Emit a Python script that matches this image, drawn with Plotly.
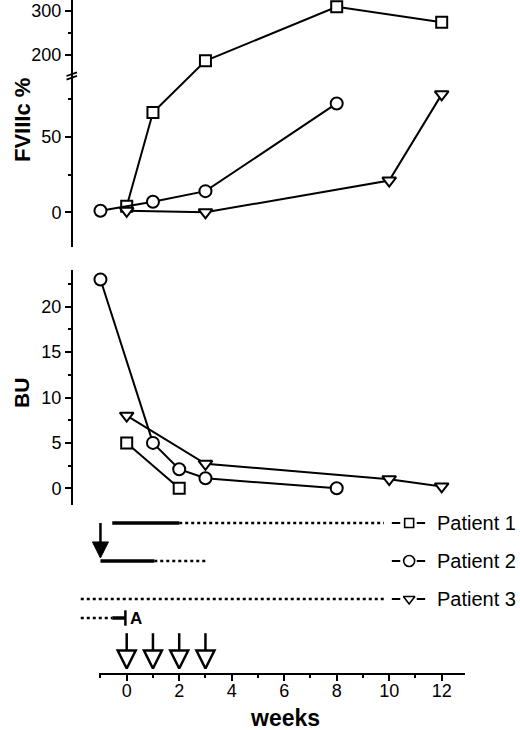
import plotly.graph_objects as go

# ---- FVIIIc % (upper panel) ----
p1_fv_weeks = [0, 1, 3, 8, 12]
p1_fv = [4, 66, 187, 309, 274]
p2_fv_weeks = [-1, 1, 3, 8]
p2_fv = [1, 7, 14, 72]
p3_fv_weeks = [0, 3, 10, 12]
p3_fv = [1, 0, 21, 78]

# ---- BU (inhibitor titre, lower panel) ----
p1_bu_weeks = [0, 2]
p1_bu = [5, 0]
p2_bu_weeks = [-1, 1, 2, 3, 8]
p2_bu = [23, 5, 2.1, 1.1, 0]
p3_bu_weeks = [0, 3, 10, 12]
p3_bu = [8, 2.7, 1, 0.2]

# ---- treatment timeline (weeks) ----
p1_solid = [-0.55, 2]
p1_dotted = [2, 9.8]
p2_solid = [-1, 1.05]
p2_dotted = [1.05, 3.05]
p3_dotted = [-1.75, 9.8]
a_dotted = [-1.75, -0.55]
a_solid = [-0.55, -0.05]
dose_weeks = [0, 1, 2, 3]

patients = ["Patient 1", "Patient 2", "Patient 3"]
x_ticks = [0, 2, 4, 6, 8, 10, 12]
x_minor = [-1, 1, 3, 5, 7, 9, 11]
fv_ticks = [0, 50, 200, 300]
fv_minor = [25, 75, 250]
bu_ticks = [0, 5, 10, 15, 20]
bu_minor = [2.5, 7.5, 12.5, 17.5, 22.5]

W, H = 520, 730
FONT = "Arial, Liberation Sans, sans-serif"


def py(p):
    # pixel row -> paper y
    return 1 - p / H


# week scale: week 0 at px 126.7, 26.25 px per week
X0, PPW = 126.7, 26.25


def xr(a, b):
    return [(a - X0) / PPW, (b - X0) / PPW]


# broken FVIIIc axis: above the break 100 % takes 44 px, below 50 % takes 76 px
BREAK = 90


def brk(v):
    return v if v <= BREAK else 104 + (v - 200) * 0.293


# timeline rows (38 px apart)
ROW = {"Patient 1": 4, "Patient 2": 3, "Patient 3": 2, "A": 1.5}

sym = {"Patient 1": "square", "Patient 2": "circle", "Patient 3": "triangle-down"}
msize = {"Patient 1": 11, "Patient 2": 12, "Patient 3": 12}
lsize = {"Patient 1": 9, "Patient 2": 11, "Patient 3": 10}

fig = go.Figure()


def data_trace(xs, ys, name, yaxis):
    fig.add_trace(go.Scatter(
        x=xs, y=ys, mode="lines+markers", xaxis="x", yaxis=yaxis,
        line=dict(color="black", width=2),
        marker=dict(symbol=sym[name], size=msize[name], color="white",
                    line=dict(color="black", width=2)),
        cliponaxis=False, showlegend=False, name=name))


data_trace(p1_fv_weeks, [brk(v) for v in p1_fv], "Patient 1", "y")
data_trace(p2_fv_weeks, [brk(v) for v in p2_fv], "Patient 2", "y")
data_trace(p3_fv_weeks, [brk(v) for v in p3_fv], "Patient 3", "y")

data_trace(p1_bu_weeks, p1_bu, "Patient 1", "y2")
data_trace(p2_bu_weeks, p2_bu, "Patient 2", "y2")
data_trace(p3_bu_weeks, p3_bu, "Patient 3", "y2")


def seg(xs, row, dotted, width=None):
    fig.add_trace(go.Scatter(
        x=xs, y=[row, row], mode="lines", xaxis="x2", yaxis="y3",
        line=dict(color="black", width=width or (2.5 if dotted else 3.5),
                  dash="dot" if dotted else "solid"),
        showlegend=False, hoverinfo="skip"))


seg(p1_solid, ROW["Patient 1"], False)
seg(p1_dotted, ROW["Patient 1"], True)
seg(p2_solid, ROW["Patient 2"], False)
seg(p2_dotted, ROW["Patient 2"], True)
seg(p3_dotted, ROW["Patient 3"], True)
seg(a_dotted, ROW["A"], True)
seg(a_solid, ROW["A"], False)

# end bar of the A line
fig.add_trace(go.Scatter(
    x=[a_solid[1]], y=[ROW["A"]], mode="markers", xaxis="x2", yaxis="y3",
    marker=dict(symbol="line-ns-open", size=11, color="black",
                line=dict(color="black", width=2.5)),
    showlegend=False, hoverinfo="skip"))


def arrow(x, y_top, y_tip, head, fill):
    # shaft down to the base of the head, then the head with its tip at y_tip
    head_rows = head / 38
    fig.add_trace(go.Scatter(
        x=[x, x], y=[y_top, y_tip + head_rows * 0.9], mode="lines",
        xaxis="x2", yaxis="y3", line=dict(color="black", width=2.5),
        showlegend=False, hoverinfo="skip"))
    fig.add_trace(go.Scatter(
        x=[x], y=[y_tip], mode="markers", xaxis="x2", yaxis="y3",
        marker=dict(symbol="arrow-down", size=head, color=fill,
                    line=dict(color="black", width=2.5 if fill == "white" else 1)),
        cliponaxis=False, showlegend=False, hoverinfo="skip"))


# filled arrow: start of patient 2 treatment
arrow(p2_solid[0], ROW["Patient 1"], ROW["Patient 2"] + 0.08, 16, "black")
# open arrows: doses
for w in dose_weeks:
    arrow(w, 1.1, 0.17, 18, "white")

# legend samples  -[]-
for name in patients:
    r = ROW[name]
    seg([10.1, 10.42], r, False, 2)
    seg([11.05, 11.37], r, False, 2)
    fig.add_trace(go.Scatter(
        x=[10.76], y=[r], mode="markers", xaxis="x2", yaxis="y3",
        marker=dict(symbol=sym[name], size=lsize[name], color="white",
                    line=dict(color="black", width=1.6)),
        showlegend=False, hoverinfo="skip"))

annotations = []
for name in patients:
    annotations.append(dict(
        x=11.75, y=ROW[name], xref="x2", yref="y3", text=name,
        showarrow=False, xanchor="left", yanchor="middle",
        font=dict(family=FONT, size=20, color="black")))
annotations.append(dict(
    x=0.05, y=ROW["A"], xref="x2", yref="y3", text="<b>A</b>",
    showarrow=False, xanchor="left", yanchor="middle",
    font=dict(family=FONT, size=17, color="black")))
annotations.append(dict(
    x=22 / W, y=py(120), xref="paper", yref="paper", text="<b>FVIIIc %</b>",
    textangle=-90, showarrow=False, xanchor="center", yanchor="middle",
    font=dict(family=FONT, size=22, color="black")))
annotations.append(dict(
    x=22 / W, y=py(393), xref="paper", yref="paper", text="<b>BU</b>",
    textangle=-90, showarrow=False, xanchor="center", yanchor="middle",
    font=dict(family=FONT, size=21, color="black")))
annotations.append(dict(
    x=285 / W, y=py(718), xref="paper", yref="paper", text="<b>weeks</b>",
    showarrow=False, xanchor="center", yanchor="middle",
    font=dict(family=FONT, size=23, color="black")))

# axis break marks
shapes = []
for off in (0, 3.6):
    shapes.append(dict(
        type="line", xref="paper", yref="paper",
        x0=66.5 / W, y0=py(76 + off), x1=77 / W, y1=py(72.3 + off),
        line=dict(color="black", width=1.8)))

yaxis_common = dict(
    anchor="free", position=72 / W, showline=True, linecolor="black", linewidth=2,
    ticks="outside", ticklen=6, tickwidth=1.5, tickcolor="black",
    showgrid=False, zeroline=False,
    tickfont=dict(family=FONT, size=18, color="black"))

fig.update_layout(
    width=W, height=H,
    margin=dict(l=0, r=0, t=0, b=0),
    paper_bgcolor="white", plot_bgcolor="white",
    showlegend=False,
    xaxis=dict(
        domain=[99 / W, 465 / W], range=xr(99, 465), anchor="y3",
        showline=True, linecolor="black", linewidth=2,
        ticks="outside", ticklen=6, tickwidth=1.5, tickcolor="black",
        tickvals=x_ticks, showgrid=False, zeroline=False, ticklabelstandoff=-6,
        minor=dict(tickvals=x_minor, ticklen=3, tickwidth=1.5, tickcolor="black", ticks="outside"),
        tickfont=dict(family=FONT, size=18, color="black")),
    xaxis2=dict(domain=[0, 1], range=xr(0, W), anchor="y3", visible=False),
    yaxis=dict(
        domain=[py(247), py(0)], range=[(212.3 - 247) / 1.512, 212.3 / 1.512],
        tickvals=[brk(t) for t in fv_ticks], ticktext=[str(t) for t in fv_ticks],
        minor=dict(tickvals=[brk(t) for t in fv_minor], ticklen=3, tickwidth=1.5,
                   tickcolor="black", ticks="outside"),
        **yaxis_common),
    yaxis2=dict(
        domain=[py(510), py(270)], range=[(488.3 - 510) / 9.08, (488.3 - 270) / 9.08],
        tickvals=bu_ticks,
        minor=dict(tickvals=bu_minor, ticklen=3, tickwidth=1.5,
                   tickcolor="black", ticks="outside"),
        **yaxis_common),
    yaxis3=dict(domain=[py(673), py(505)], range=[2 - 74 / 38, 2 + 94 / 38],
                visible=False, anchor="x2"),
    annotations=annotations,
    shapes=shapes,
)

fig.write_html("out.html", config={"displayModeBar": False},
               post_script="document.body.style.margin='0px';")
